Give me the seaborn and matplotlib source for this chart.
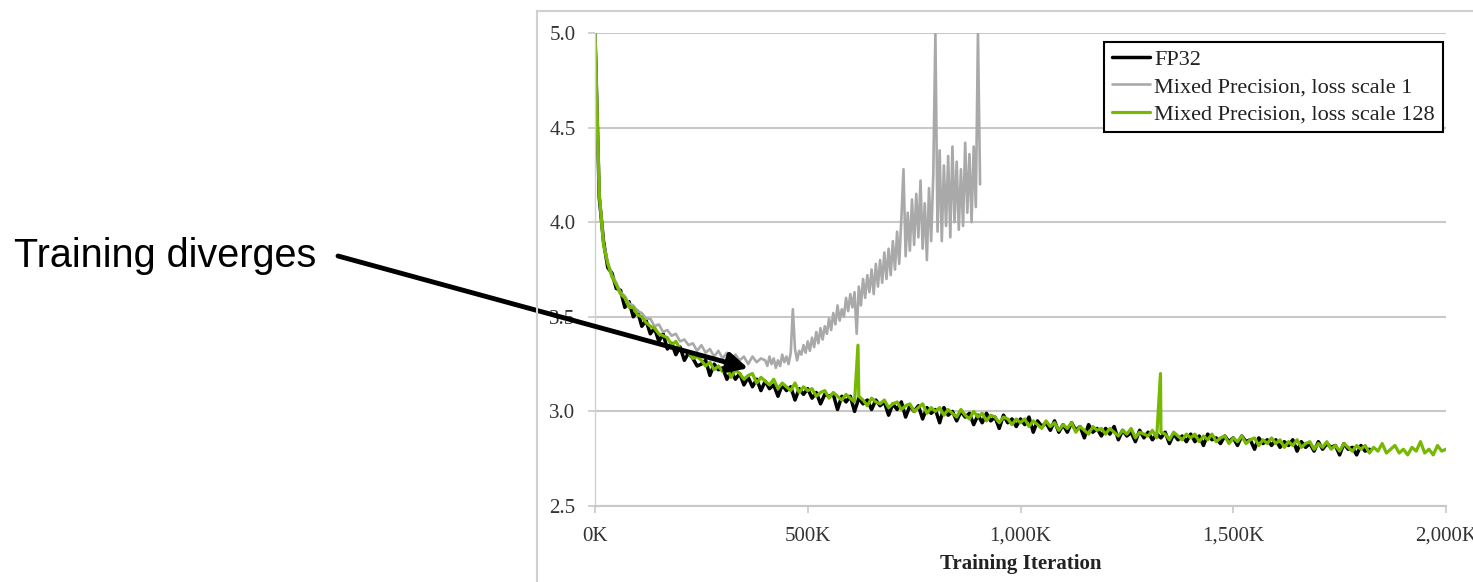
import matplotlib
matplotlib.use('Agg')
import matplotlib.pyplot as plt
import numpy as np
import pandas as pd
import seaborn as sns
from matplotlib.patches import Rectangle

# 数据：训练迭代（K）与损失值
series_names = ['FP32', 'Mixed Precision, loss scale 1', 'Mixed Precision, loss scale 128']

fp32_iters = np.arange(0, 1821, 10)
fp32_loss = [
    5.00, 4.13, 3.90, 3.76, 3.73, 3.65, 3.64, 3.55, 3.58, 3.50,
    3.53, 3.45, 3.48, 3.41, 3.44, 3.37, 3.41, 3.33, 3.36, 3.30,
    3.34, 3.27, 3.31, 3.28, 3.24, 3.25, 3.27, 3.19, 3.25, 3.22,
    3.23, 3.17, 3.21, 3.17, 3.20, 3.14, 3.18, 3.13, 3.17, 3.11,
    3.16, 3.12, 3.14, 3.08, 3.14, 3.11, 3.13, 3.06, 3.12, 3.09,
    3.12, 3.07, 3.10, 3.04, 3.09, 3.08, 3.09, 3.01, 3.08, 3.05,
    3.08, 3.00, 3.07, 3.04, 3.06, 3.01, 3.06, 3.03, 3.05, 2.98,
    3.04, 3.01, 3.05, 2.97, 3.03, 3.00, 3.03, 2.96, 3.02, 2.99,
    3.01, 2.94, 3.02, 2.98, 3.00, 2.95, 3.00, 2.97, 2.99, 2.93,
    2.98, 2.94, 2.99, 2.95, 2.97, 2.91, 2.98, 2.94, 2.96, 2.92,
    2.96, 2.93, 2.97, 2.89, 2.95, 2.92, 2.94, 2.90, 2.95, 2.89,
    2.93, 2.89, 2.94, 2.90, 2.92, 2.86, 2.93, 2.89, 2.91, 2.87,
    2.91, 2.88, 2.92, 2.85, 2.90, 2.87, 2.89, 2.84, 2.90, 2.86,
    2.89, 2.85, 2.88, 2.86, 2.89, 2.83, 2.88, 2.85, 2.87, 2.84,
    2.88, 2.84, 2.87, 2.82, 2.88, 2.85, 2.86, 2.83, 2.87, 2.84,
    2.86, 2.82, 2.87, 2.84, 2.85, 2.80, 2.86, 2.83, 2.85, 2.82,
    2.85, 2.81, 2.84, 2.82, 2.85, 2.79, 2.84, 2.81, 2.83, 2.79,
    2.84, 2.80, 2.83, 2.81, 2.82, 2.77, 2.83, 2.80, 2.81, 2.77,
    2.82, 2.79, 2.80,
]

ls1_iters = np.concatenate([np.arange(0, 400, 10), np.arange(400, 906, 5)])
ls1_loss = [
    5.00, 4.16, 3.89, 3.79, 3.72, 3.68, 3.63, 3.61, 3.57, 3.56,
    3.53, 3.52, 3.49, 3.49, 3.45, 3.46, 3.42, 3.43, 3.40, 3.41,
    3.37, 3.38, 3.35, 3.36, 3.32, 3.35, 3.31, 3.33, 3.29, 3.32,
    3.28, 3.31, 3.26, 3.30, 3.27, 3.29, 3.25, 3.29, 3.26, 3.28,
    # 400K 起每 5K 一个点
    3.27, 3.24, 3.29, 3.25, 3.28, 3.23, 3.27, 3.24, 3.30, 3.26,
    3.29, 3.25, 3.31, 3.54, 3.33, 3.27, 3.32, 3.30, 3.35, 3.31,
    3.37, 3.32, 3.39, 3.34, 3.42, 3.36, 3.44, 3.38, 3.45, 3.41,
    3.49, 3.43, 3.52, 3.46, 3.56, 3.48, 3.54, 3.50, 3.60, 3.53,
    3.62, 3.55, 3.63, 3.41, 3.66, 3.56, 3.70, 3.60, 3.72, 3.63,
    3.75, 3.62, 3.78, 3.66, 3.80, 3.68, 3.84, 3.70, 3.86, 3.72,
    3.90, 3.75, 3.95, 3.78, 4.02, 4.28, 3.82, 4.05, 3.85, 4.12,
    3.88, 4.15, 3.92, 4.22, 3.86, 4.10, 3.80, 4.18, 3.90, 4.25,
    5.00, 3.95, 4.38, 3.90, 4.30, 3.98, 4.35, 3.92, 4.40, 4.00,
    4.32, 3.96, 4.28, 3.98, 4.42, 4.05, 4.36, 4.00, 4.40, 4.08,
    5.00, 4.20,
]

ls128_iters = np.arange(0, 2001, 10)
ls128_loss = [
    5.00, 4.15, 3.88, 3.78, 3.71, 3.67, 3.62, 3.60, 3.55, 3.55,
    3.51, 3.50, 3.47, 3.45, 3.44, 3.41, 3.40, 3.39, 3.35, 3.37,
    3.33, 3.32, 3.31, 3.28, 3.29, 3.27, 3.24, 3.26, 3.22, 3.24,
    3.21, 3.23, 3.18, 3.22, 3.20, 3.17, 3.19, 3.20, 3.15, 3.18,
    3.16, 3.14, 3.17, 3.12, 3.15, 3.13, 3.11, 3.15, 3.10, 3.13,
    3.11, 3.12, 3.08, 3.10, 3.11, 3.07, 3.10, 3.08, 3.06, 3.09,
    3.07, 3.05, 3.08, 3.06, 3.03, 3.07, 3.05, 3.04, 3.06, 3.02,
    3.04, 3.05, 3.01, 3.03, 3.04, 3.00, 3.02, 3.04, 2.99, 3.02,
    3.00, 3.02, 2.98, 3.01, 2.99, 2.97, 3.01, 2.98, 2.96, 3.00,
    2.97, 2.99, 2.95, 2.98, 2.97, 2.94, 2.97, 2.96, 2.93, 2.96,
    2.94, 2.96, 2.92, 2.95, 2.93, 2.91, 2.95, 2.92, 2.94, 2.90,
    2.93, 2.91, 2.94, 2.89, 2.92, 2.90, 2.88, 2.92, 2.90, 2.91,
    2.88, 2.91, 2.89, 2.87, 2.90, 2.88, 2.91, 2.86, 2.89, 2.88,
    2.87, 2.90, 2.86, 2.89, 2.88, 2.85, 2.89, 2.87, 2.85, 2.88,
    2.86, 2.88, 2.84, 2.87, 2.85, 2.88, 2.84, 2.86, 2.87, 2.83,
    2.86, 2.84, 2.87, 2.83, 2.85, 2.86, 2.82, 2.85, 2.83, 2.86,
    2.83, 2.85, 2.81, 2.84, 2.82, 2.85, 2.81, 2.83, 2.84, 2.80,
    2.83, 2.81, 2.84, 2.80, 2.82, 2.79, 2.83, 2.81, 2.79, 2.82,
    2.80, 2.82, 2.78, 2.81, 2.79, 2.83, 2.78, 2.80, 2.82, 2.78,
    2.80, 2.77, 2.81, 2.79, 2.84, 2.78, 2.80, 2.77, 2.82, 2.79,
    2.80,
]
ls128_spike_iters = [618, 1329]
ls128_spike_loss = [3.35, 3.20]

x_ticks = [0, 500, 1000, 1500, 2000]
x_tick_labels = ['0K', '500K', '1,000K', '1,500K', '2,000K']
y_ticks = [2.5, 3.0, 3.5, 4.0, 4.5, 5.0]

# 组装数据表
fp32_df = pd.DataFrame({'iter': fp32_iters, 'loss': fp32_loss})
ls1_df = pd.DataFrame({'iter': ls1_iters, 'loss': ls1_loss})
ls128_df = pd.DataFrame({'iter': np.concatenate([ls128_iters, ls128_spike_iters]),
                         'loss': ls128_loss + ls128_spike_loss}).sort_values('iter')

sns.set_style('white')
plt.rcParams['font.family'] = ['Liberation Serif', 'DejaVu Serif']

W, H = 1473, 582
fig = plt.figure(figsize=(W / 100, H / 100), dpi=100)
ax = fig.add_axes([595 / W, 76 / H, 851 / W, 473 / H])

sns.lineplot(data=fp32_df, x='iter', y='loss', color='black', lw=2.5,
             label=series_names[0], estimator=None, ax=ax)
sns.lineplot(data=ls1_df, x='iter', y='loss', color='#a9a9a9', lw=1.9,
             label=series_names[1], estimator=None, ax=ax)
sns.lineplot(data=ls128_df, x='iter', y='loss', color='#76b900', lw=2.3,
             label=series_names[2], estimator=None, ax=ax)

ax.set_xlim(0, 2000)
ax.set_ylim(2.5, 5.0)
ax.set_xticks(x_ticks)
ax.set_xticklabels(x_tick_labels)
ax.set_yticks(y_ticks)
ax.set_yticklabels([f'{v:.1f}' for v in y_ticks])
ax.grid(axis='y', color='#c8c8c8', lw=1.5)
ax.set_axisbelow(True)

for side in ['top', 'right']:
    ax.spines[side].set_visible(False)
ax.spines['bottom'].set_color('#c8c8c8')
ax.spines['bottom'].set_linewidth(1.5)
ax.spines['left'].set_color('#d0d0d0')
ax.spines['left'].set_linewidth(1.0)

ax.tick_params(axis='y', direction='out', length=5, width=1.2, color='#c8c8c8',
               labelsize=15, labelcolor='#333333', pad=9, left=True)
ax.tick_params(axis='x', direction='out', length=5, width=1.2, color='#c8c8c8',
               labelsize=15, labelcolor='#333333', pad=10, bottom=True)

ax.set_xlabel('Training Iteration', fontsize=15, fontweight='bold', labelpad=6,
              color='#222222')
ax.set_ylabel('')

leg = ax.legend(loc='upper right', bbox_to_anchor=(0.996, 0.982), frameon=True,
                fancybox=False, edgecolor='black', framealpha=1, fontsize=16,
                handlelength=1.7, handletextpad=0.2, borderpad=0.35,
                labelspacing=0.3, borderaxespad=0)
leg.get_frame().set_linewidth(1.5)
for t in leg.get_texts():
    t.set_color('#222222')

# 标注箭头和文字
ax.annotate('', xy=(360, 3.228), xycoords='data', xytext=(338, H - 256),
            textcoords='figure pixels', annotation_clip=False,
            arrowprops=dict(arrowstyle='-|>,head_length=0.8,head_width=0.4',
                            color='black', lw=3.5, shrinkA=0, shrinkB=0,
                            mutation_scale=15))
fig.text(14 / W, (H - 267) / H, 'Training diverges', fontsize=28.5, color='black',
         family=['Liberation Sans', 'DejaVu Sans'], va='baseline', ha='left')

# 外边框
fig.add_artist(Rectangle((537 / W, -0.05), 1.0, 1 - 11 / H + 0.05,
                         transform=fig.transFigure, fill=False,
                         edgecolor='#d0d0d0', lw=1.5, clip_on=False))

fig.savefig('out.png', dpi=100)
